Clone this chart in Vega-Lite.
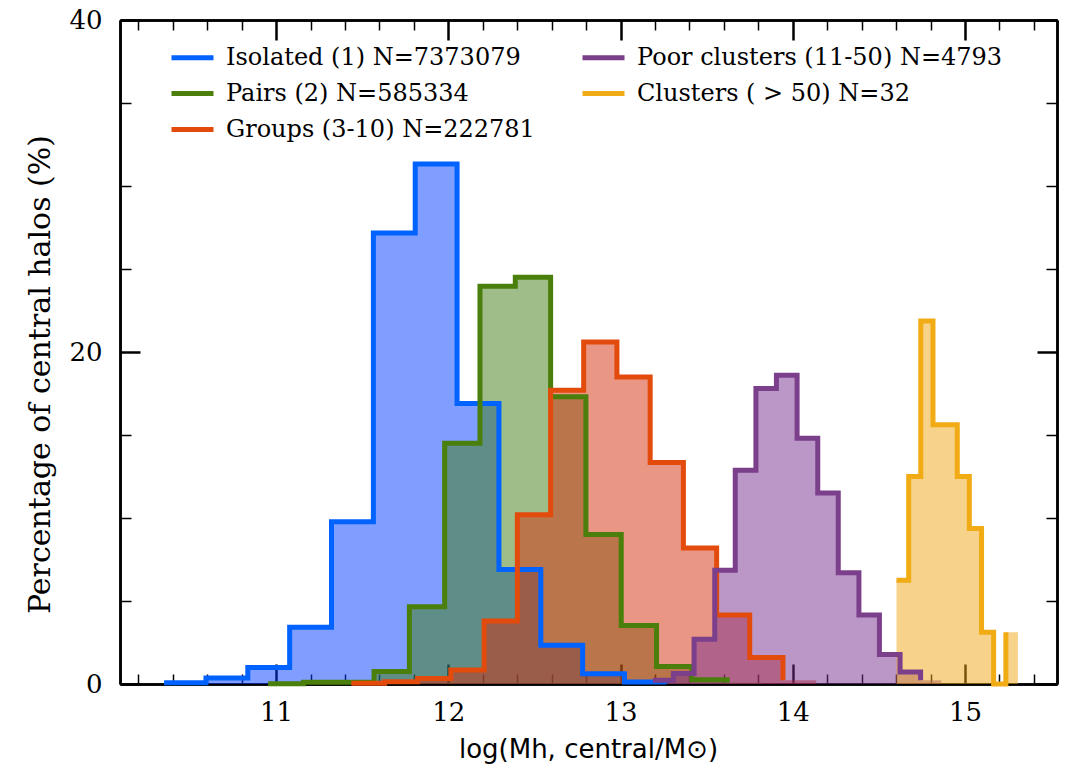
{
  "$schema": "https://vega.github.io/schema/vega-lite/v6.json",
  "width": 937,
  "height": 664,
  "autosize": {"type": "none"},
  "padding": {"left": 120, "top": 20, "right": 10, "bottom": 93},
  "background": "white",
  "config": {
    "view": {"stroke": null},
    "font": "DejaVu Serif",
    "axis": {"grid": false, "domain": true, "domainColor": "black", "domainWidth": 2.5, "tickColor": "black", "zindex": 1, "labelFlush": false, "labelOverlap": false, "labelBound": false}
  },
  "data": {
    "values": [
      {"g": "Isolated (1) N=7373079", "x": 10.35, "y": 0.08},
      {"g": "Isolated (1) N=7373079", "x": 10.593, "y": 0.36},
      {"g": "Isolated (1) N=7373079", "x": 10.836, "y": 0.99},
      {"g": "Isolated (1) N=7373079", "x": 11.079, "y": 3.42},
      {"g": "Isolated (1) N=7373079", "x": 11.322, "y": 9.77},
      {"g": "Isolated (1) N=7373079", "x": 11.565, "y": 27.17},
      {"g": "Isolated (1) N=7373079", "x": 11.808, "y": 31.33},
      {"g": "Isolated (1) N=7373079", "x": 12.051, "y": 16.9},
      {"g": "Isolated (1) N=7373079", "x": 12.294, "y": 6.9},
      {"g": "Isolated (1) N=7373079", "x": 12.537, "y": 2.33},
      {"g": "Isolated (1) N=7373079", "x": 12.78, "y": 0.62},
      {"g": "Isolated (1) N=7373079", "x": 13.023, "y": 0.12},
      {"g": "Isolated (1) N=7373079", "x": 13.266, "y": 0.04},
      {"g": "Isolated (1) N=7373079", "x": 13.509, "y": 0.04, "last": true},

      {"g": "Pairs (2) N=585334", "x": 10.954, "y": 0.02},
      {"g": "Pairs (2) N=585334", "x": 11.159, "y": 0.1},
      {"g": "Pairs (2) N=585334", "x": 11.364, "y": 0.1},
      {"g": "Pairs (2) N=585334", "x": 11.569, "y": 0.75},
      {"g": "Pairs (2) N=585334", "x": 11.774, "y": 4.66},
      {"g": "Pairs (2) N=585334", "x": 11.979, "y": 14.5},
      {"g": "Pairs (2) N=585334", "x": 12.184, "y": 23.96},
      {"g": "Pairs (2) N=585334", "x": 12.389, "y": 24.5},
      {"g": "Pairs (2) N=585334", "x": 12.594, "y": 17.3},
      {"g": "Pairs (2) N=585334", "x": 12.799, "y": 9.0},
      {"g": "Pairs (2) N=585334", "x": 13.004, "y": 3.53},
      {"g": "Pairs (2) N=585334", "x": 13.209, "y": 1.05},
      {"g": "Pairs (2) N=585334", "x": 13.414, "y": 0.25},
      {"g": "Pairs (2) N=585334", "x": 13.619, "y": 0.08},
      {"g": "Pairs (2) N=585334", "x": 13.824, "y": 0.08, "last": true},

      {"g": "Groups (3-10) N=222781", "x": 11.437, "y": 0.04},
      {"g": "Groups (3-10) N=222781", "x": 11.63, "y": 0.13},
      {"g": "Groups (3-10) N=222781", "x": 11.822, "y": 0.33},
      {"g": "Groups (3-10) N=222781", "x": 12.015, "y": 0.85},
      {"g": "Groups (3-10) N=222781", "x": 12.208, "y": 3.8},
      {"g": "Groups (3-10) N=222781", "x": 12.401, "y": 10.2},
      {"g": "Groups (3-10) N=222781", "x": 12.594, "y": 17.7},
      {"g": "Groups (3-10) N=222781", "x": 12.786, "y": 20.6},
      {"g": "Groups (3-10) N=222781", "x": 12.979, "y": 18.5},
      {"g": "Groups (3-10) N=222781", "x": 13.172, "y": 13.35},
      {"g": "Groups (3-10) N=222781", "x": 13.365, "y": 8.2},
      {"g": "Groups (3-10) N=222781", "x": 13.558, "y": 4.15},
      {"g": "Groups (3-10) N=222781", "x": 13.75, "y": 1.6},
      {"g": "Groups (3-10) N=222781", "x": 13.943, "y": 0.22},
      {"g": "Groups (3-10) N=222781", "x": 14.136, "y": 0.22, "last": true},

      {"g": "Poor clusters (11-50) N=4793", "x": 13.188, "y": 0.22},
      {"g": "Poor clusters (11-50) N=4793", "x": 13.307, "y": 0.64},
      {"g": "Poor clusters (11-50) N=4793", "x": 13.427, "y": 2.7},
      {"g": "Poor clusters (11-50) N=4793", "x": 13.547, "y": 6.85},
      {"g": "Poor clusters (11-50) N=4793", "x": 13.666, "y": 12.87},
      {"g": "Poor clusters (11-50) N=4793", "x": 13.786, "y": 17.8},
      {"g": "Poor clusters (11-50) N=4793", "x": 13.905, "y": 18.6},
      {"g": "Poor clusters (11-50) N=4793", "x": 14.025, "y": 14.8},
      {"g": "Poor clusters (11-50) N=4793", "x": 14.145, "y": 11.5},
      {"g": "Poor clusters (11-50) N=4793", "x": 14.264, "y": 6.7},
      {"g": "Poor clusters (11-50) N=4793", "x": 14.384, "y": 4.15},
      {"g": "Poor clusters (11-50) N=4793", "x": 14.503, "y": 1.77},
      {"g": "Poor clusters (11-50) N=4793", "x": 14.623, "y": 0.72},
      {"g": "Poor clusters (11-50) N=4793", "x": 14.742, "y": 0.22},
      {"g": "Poor clusters (11-50) N=4793", "x": 14.862, "y": 0.22, "last": true},

      {"g": "Clusters ( > 50) N=32", "x": 14.602, "y": 6.25},
      {"g": "Clusters ( > 50) N=32", "x": 14.673, "y": 12.5},
      {"g": "Clusters ( > 50) N=32", "x": 14.743, "y": 21.875},
      {"g": "Clusters ( > 50) N=32", "x": 14.814, "y": 15.625},
      {"g": "Clusters ( > 50) N=32", "x": 14.884, "y": 15.625},
      {"g": "Clusters ( > 50) N=32", "x": 14.955, "y": 12.5},
      {"g": "Clusters ( > 50) N=32", "x": 15.025, "y": 9.375},
      {"g": "Clusters ( > 50) N=32", "x": 15.096, "y": 3.125},
      {"g": "Clusters ( > 50) N=32", "x": 15.166, "y": 0},
      {"g": "Clusters ( > 50) N=32", "x": 15.237, "y": 3.125},
      {"g": "Clusters ( > 50) N=32", "x": 15.307, "y": 3.125, "last": true}
    ]
  },
  "layer": [
    {
      "mark": {"type": "area", "interpolate": "step-after", "fillOpacity": 0.5, "strokeWidth": 0},
      "encoding": {
        "x": {
          "field": "x", "type": "quantitative",
          "scale": {"domain": [10.094, 15.534], "nice": false, "zero": false},
          "axis": {
            "orient": "bottom",
            "values": [10.2, 10.4, 10.6, 10.8, 11.2, 11.4, 11.6, 11.8, 12.2, 12.4, 12.6, 12.8, 13.2, 13.4, 13.6, 13.8, 14.2, 14.4, 14.6, 14.8, 15.2, 15.4],
            "labels": false, "ticks": true, "tickSize": -10, "tickWidth": 1.5, "title": null
          }
        },
        "y": {
          "field": "y", "type": "quantitative", "stack": null,
          "scale": {"domain": [0, 40], "nice": false, "zero": false},
          "axis": {
            "orient": "left",
            "values": [5, 10, 15, 25, 30, 35],
            "labels": false, "ticks": true, "tickSize": -11, "tickWidth": 1.5, "title": null
          }
        },
        "fill": {
          "field": "g", "type": "nominal",
          "scale": {
            "domain": ["Isolated (1) N=7373079", "Pairs (2) N=585334", "Groups (3-10) N=222781", "Poor clusters (11-50) N=4793", "Clusters ( > 50) N=32"],
            "range": ["#003dff", "#3f7b11", "#d52d0b", "#772f8f", "#efa515"]
          },
          "legend": null
        }
      }
    },
    {
      "transform": [{"filter": "!datum.last"}],
      "mark": {"type": "line", "interpolate": "step-after", "strokeWidth": 5},
      "encoding": {
        "x": {
          "field": "x", "type": "quantitative",
          "axis": {
            "orient": "top",
            "values": [10.2, 10.4, 10.6, 10.8, 11.2, 11.4, 11.6, 11.8, 12.2, 12.4, 12.6, 12.8, 13.2, 13.4, 13.6, 13.8, 14.2, 14.4, 14.6, 14.8, 15.2, 15.4],
            "labels": false, "ticks": true, "tickSize": -10, "tickWidth": 1.5, "title": null
          }
        },
        "y": {
          "field": "y", "type": "quantitative",
          "axis": {
            "orient": "right",
            "values": [5, 10, 15, 25, 30, 35],
            "labels": false, "ticks": true, "tickSize": -11, "tickWidth": 1.5, "title": null
          }
        },
        "color": {
          "field": "g", "type": "nominal",
          "scale": {
            "domain": ["Isolated (1) N=7373079", "Pairs (2) N=585334", "Groups (3-10) N=222781", "Poor clusters (11-50) N=4793", "Clusters ( > 50) N=32"],
            "range": ["#0062ff", "#4a7f0b", "#e34b0c", "#7b3f8c", "#f1ab14"]
          },
          "legend": {
            "title": null, "orient": "none", "legendX": 49, "legendY": 14,
            "columns": 2, "columnPadding": 37, "rowPadding": -8, "padding": 0,
            "symbolType": "stroke", "symbolSize": 1764, "symbolStrokeWidth": 5, "symbolOpacity": 1,
            "labelOffset": 10, "labelFont": "DejaVu Serif", "labelFontSize": 24, "labelColor": "black", "labelLimit": 600
          }
        }
      }
    },
    {
      "mark": {"type": "point", "opacity": 0},
      "encoding": {
        "x": {
          "field": "x", "type": "quantitative",
          "axis": {
            "orient": "bottom",
            "values": [11, 12, 13, 14, 15],
            "labelFont": "DejaVu Serif", "labelFontSize": 26, "labelColor": "black", "labelPadding": 35,
            "ticks": true, "tickSize": -20, "tickWidth": 2.5,
            "title": "log(Mh, central/M⊙)",
            "titleFont": "DejaVu Sans", "titleFontSize": 26, "titleFontWeight": "normal", "titleColor": "black",
            "titleX": 468, "titleY": 73, "titleBaseline": "alphabetic", "titleAlign": "center"
          }
        },
        "y": {
          "field": "y", "type": "quantitative",
          "axis": {
            "orient": "left",
            "values": [0, 20, 40],
            "labelFont": "DejaVu Serif", "labelFontSize": 26, "labelColor": "black", "labelPadding": 38,
            "ticks": true, "tickSize": -20, "tickWidth": 2.5,
            "title": "Percentage of central halos (%)",
            "titleFont": "DejaVu Serif", "titleFontSize": 30, "titleFontWeight": "normal", "titleColor": "black",
            "titleX": -80, "titleY": 354, "titleAngle": -90, "titleBaseline": "middle", "titleAlign": "center"
          }
        }
      }
    },
    {
      "mark": {"type": "point", "opacity": 0},
      "encoding": {
        "x": {
          "field": "x", "type": "quantitative",
          "axis": {"orient": "top", "values": [11, 12, 13, 14, 15], "labels": false, "ticks": true, "tickSize": -20, "tickWidth": 2.5, "title": null}
        },
        "y": {
          "field": "y", "type": "quantitative",
          "axis": {"orient": "right", "values": [0, 20, 40], "labels": false, "ticks": true, "tickSize": -20, "tickWidth": 2.5, "title": null}
        }
      }
    }
  ],
  "resolve": {"axis": {"x": "independent", "y": "independent"}, "scale": {"color": "independent"}}
}
